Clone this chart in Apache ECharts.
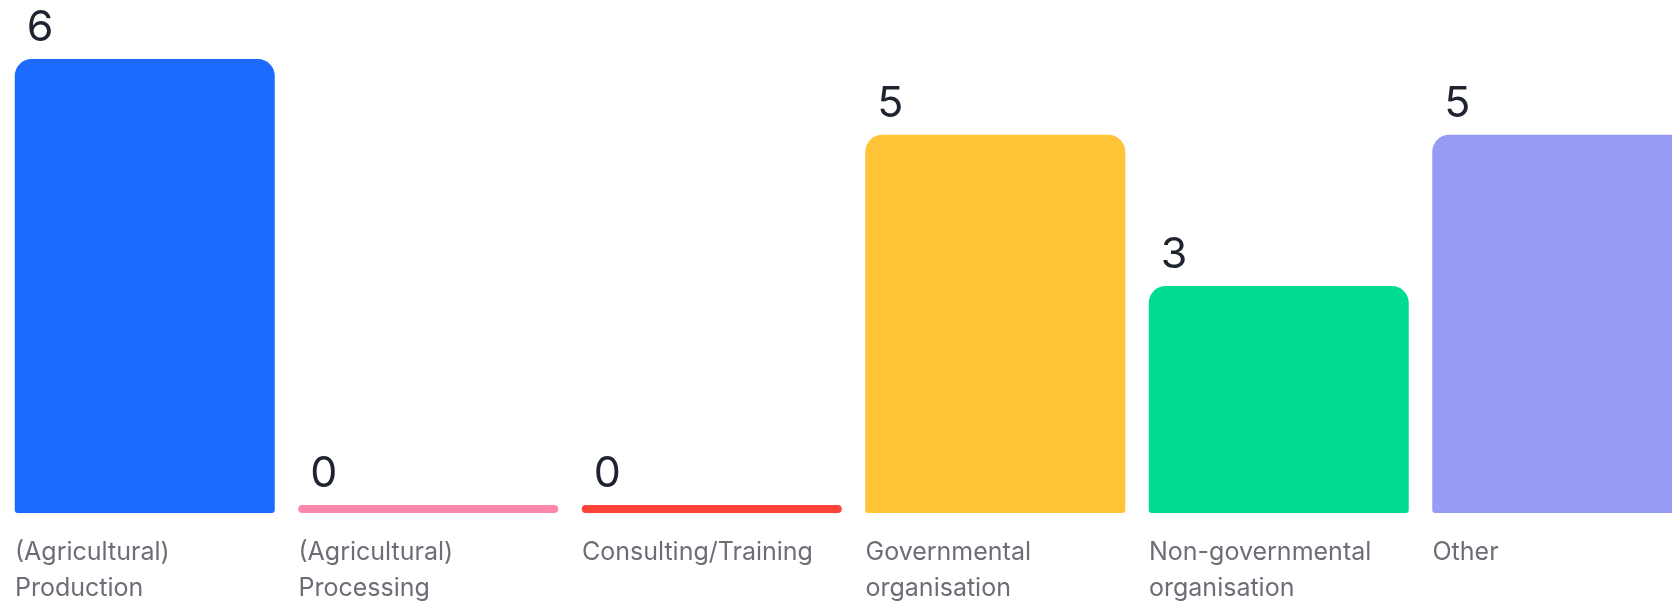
<!DOCTYPE html>
<html>
<head>
<meta charset="utf-8">
<script src="https://cdn.jsdelivr.net/npm/echarts@6/dist/echarts.min.js"></script>
<style>
    html, body { margin: 0; padding: 0; background: #fff; }
    #chart { width: 1672px; height: 601px; }
</style>
</head>
<body>
<div id="chart"></div>
<script>
    // data
    const categories = ['(Agricultural) Production', '(Agricultural) Processing', 'Consulting/Training', 'Governmental organisation', 'Non-governmental organisation', 'Other'];
    const counts = [6, 0, 0, 5, 3, 5];
    const barColors = ['#1c6aff', '#ff87aa', '#ff4237', '#ffc437', '#00db92', '#969cf4'];

    const chart = echarts.init(document.getElementById('chart'));

    const option = {
        animation: false,
        grid: { left: 3, width: 1701, top: 59, bottom: 88, outerBoundsMode: 'none', containLabel: false },
        xAxis: [{
            type: 'category',
            data: categories,
            show: false
        }, {
            // boundary ticks so the labels start at the left edge of each band
            type: 'category',
            data: categories.concat(['']),
            boundaryGap: false,
            position: 'bottom',
            axisLine: { show: false },
            axisTick: { show: false },
            axisLabel: {
                interval: 0,
                align: 'left',
                margin: 21,
                padding: [0, 0, 0, 12],
                width: 258,
                overflow: 'break',
                color: '#6b6e76',
                fontFamily: 'Inter',
                fontSize: 25,
                lineHeight: 36
            }
        }],
        yAxis: {
            type: 'value',
            min: 0,
            max: 6,
            show: false
        },
        series: [{
            type: 'bar',
            xAxisIndex: 0,
            barWidth: 260,
            barMinHeight: 8,
            data: counts.map(function (v, i) {
                return {
                    value: v,
                    itemStyle: {
                        color: barColors[i],
                        borderRadius: v === 0 ? 4 : [17, 17, 3, 3]
                    }
                };
            }),
            label: {
                show: true,
                position: [12, -31],
                align: 'left',
                verticalAlign: 'middle',
                color: '#1e2330',
                fontFamily: 'Inter',
                fontSize: 43
            }
        }]
    };

    chart.setOption(option);
</script>
</body>
</html>
